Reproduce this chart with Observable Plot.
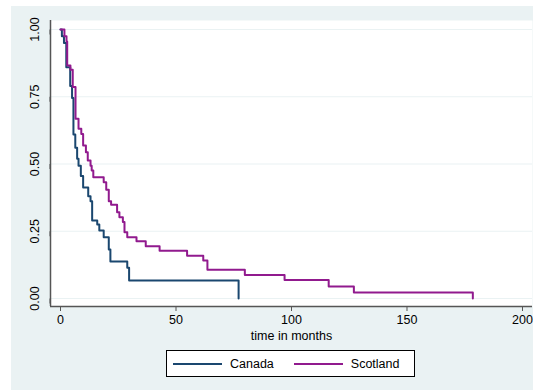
<!DOCTYPE html>
<html>
<head>
<meta charset="utf-8">
<script src="https://cdn.jsdelivr.net/npm/d3@7"></script>
<script src="https://cdn.jsdelivr.net/npm/@observablehq/plot@0.6"></script>
<style>
  html, body { margin: 0; padding: 0; background: #ffffff; }
  #wrap { position: absolute; left: 11px; top: 6px; width: 522px; height: 384px; background: #eaf2f3; font-family: "Liberation Sans", Arial, sans-serif; }
  #legend { position: absolute; left: 155px; top: 344px; width: 247px; height: 25px; background: #fff; border: 1px solid #000; display: flex; align-items: center; font-size: 12.5px; color: #000; }
  .sw { display: inline-block; width: 49px; height: 0; border-top: 2px solid; margin-left: 6px; margin-right: 8px; }
</style>
</head>
<body>
<div id="wrap"><div id="chart"></div><div id="legend"></div></div>
<script>
// Kaplan-Meier survival estimates (time in months, survival after each step)
const groups = ["Canada", "Scotland"];
const colors = ["#1a476f", "#911a8e"];
const canadaTime = [0, 0.6, 1.5, 2.5, 4.2, 5.0, 5.6, 6.4, 7.2, 7.8, 8.8, 9.8, 12.0, 13.0, 13.7, 15.9, 16.8, 18.7, 20.9, 21.6, 28.9, 29.7, 77.1];
const canadaSurv = [1.0, 0.975, 0.95, 0.86, 0.79, 0.745, 0.61, 0.56, 0.52, 0.494, 0.455, 0.413, 0.380, 0.362, 0.290, 0.275, 0.253, 0.228, 0.182, 0.138, 0.114, 0.067, 0.0];
const scotlandTime = [0, 1.7, 2.6, 2.9, 4.3, 5.3, 6.5, 7.8, 9.0, 9.8, 11.0, 11.8, 13.0, 13.5, 14.2, 18.7, 19.8, 20.9, 21.9, 24.5, 25.5, 27.0, 27.7, 28.9, 32.9, 36.9, 42.9, 54.8, 61.8, 63.6, 79.8, 97.0, 116.1, 127.0, 178.5];
const scotlandSurv = [1.0, 0.975, 0.955, 0.866, 0.85, 0.786, 0.668, 0.631, 0.612, 0.569, 0.544, 0.513, 0.494, 0.476, 0.451, 0.432, 0.404, 0.362, 0.349, 0.321, 0.302, 0.284, 0.246, 0.228, 0.213, 0.194, 0.178, 0.159, 0.141, 0.107, 0.087, 0.069, 0.045, 0.022, 0.0];
const xTicks = [0, 50, 100, 150, 200];
const yTicks = [0, 0.25, 0.5, 0.75, 1];
const xTitle = "time in months";
const xDomain = [-4.33, 204.33];
const yDomain = [-0.0297, 1.0335];

const rows = [];
canadaTime.forEach((t, i) => rows.push({group: "Canada", t, s: canadaSurv[i]}));
scotlandTime.forEach((t, i) => rows.push({group: "Scotland", t, s: scotlandSurv[i]}));

const font = "Liberation Sans, Arial, sans-serif";
const chart = Plot.plot({
  width: 522,
  height: 336,
  marginLeft: 39,
  marginRight: 1,
  marginTop: 14,
  marginBottom: 36,
  style: {background: "transparent", fontFamily: font, fontSize: "12.5px", color: "#000"},
  x: {domain: xDomain},
  y: {domain: yDomain},
  color: {domain: groups, range: colors},
  marks: [
    Plot.frame({fill: "#ffffff", stroke: null}),
    Plot.gridY(yTicks, {stroke: "#eaf2f3", strokeOpacity: 1, strokeWidth: 1.2}),
    Plot.line(rows, {x: "t", y: "s", z: "group", stroke: "group", curve: "step-after", strokeWidth: 2}),
    Plot.ruleX([xDomain[0]], {stroke: "#555", strokeWidth: 1.5}),
    Plot.ruleY([yDomain[0]], {stroke: "#555", strokeWidth: 1.5}),
    Plot.axisX(xTicks, {tickSize: 5, tickPadding: 4, stroke: "#555", fontSize: 12.5, label: null}),
    Plot.axisY(yTicks, {tickSize: 5, tickPadding: 11, stroke: "#555", fontSize: 12.5, rotate: -90, textAnchor: "middle", tickFormat: d3.format(".2f"), label: null}),
    Plot.text([xTitle], {frameAnchor: "bottom", dy: 33, fontSize: 12.5, fill: "#000"})
  ]
});
document.getElementById("chart").appendChild(chart);

const legend = document.getElementById("legend");
groups.forEach((g, i) => {
  const sw = document.createElement("span");
  sw.className = "sw";
  sw.style.borderTopColor = colors[i];
  if (i === 1) sw.style.marginLeft = "20px";
  legend.appendChild(sw);
  const tx = document.createElement("span");
  tx.textContent = g;
  legend.appendChild(tx);
});
</script>
</body>
</html>
